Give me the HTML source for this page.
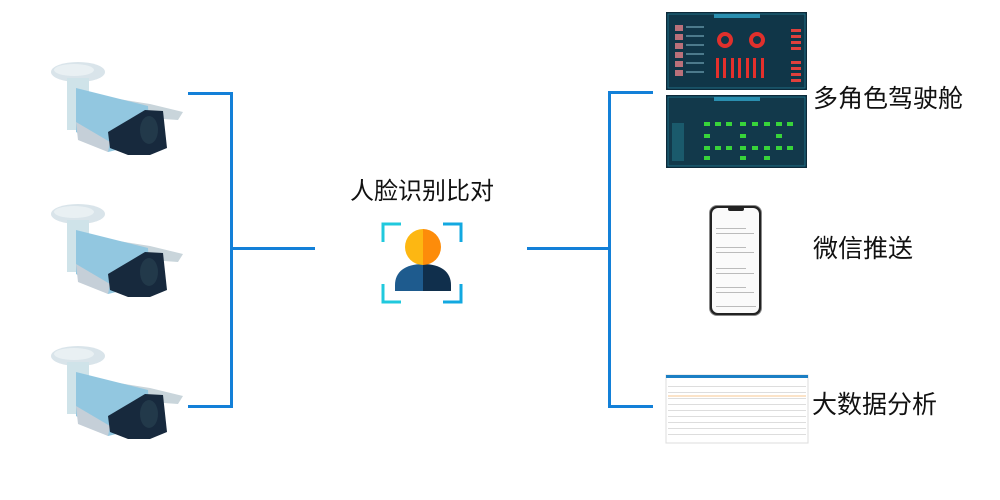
<!DOCTYPE html>
<html><head><meta charset="utf-8"><style>
html,body{margin:0;padding:0;background:#fff;}
body{width:1000px;height:500px;position:relative;overflow:hidden;font-family:"Liberation Sans","Noto Sans CJK SC",sans-serif;}
.t{position:absolute;color:#111;font-size:24px;line-height:28px;white-space:nowrap;}
</style></head><body>
<svg width="1000" height="500" style="position:absolute;left:0;top:0">
<defs>
<g id="cam">
<ellipse cx="78" cy="72" rx="27" ry="10" fill="#d9e4ea"/>
<ellipse cx="74" cy="70" rx="20" ry="6" fill="#e9f0f3"/>
<rect x="67" y="78" width="22" height="52" fill="#cfe3e9"/>
<polygon points="100,96 150,104 183,112 178,120 150,118 105,108" fill="#c9d5db"/>
<polygon points="76,88 148,106 150,142 108,152 76,132" fill="#92c7e0"/>
<polygon points="76,122 110,142 108,152 78,140" fill="#c5cfd8"/>
<polygon points="108,132 145,110 163,111 167,148 150,155 128,155 110,148" fill="#17293d"/>
<ellipse cx="149" cy="130" rx="9" ry="14" fill="#22394a"/>
</g>
</defs>
<use href="#cam"/>
<use href="#cam" transform="translate(0,142)"/>
<use href="#cam" transform="translate(0,284)"/>
<g fill="#1380d8">
<rect x="188" y="92" width="45" height="3"/>
<rect x="188" y="405" width="45" height="3"/>
<rect x="230" y="92" width="3" height="316"/>
<rect x="230" y="247" width="85" height="3"/>
<rect x="527" y="247" width="84" height="3"/>
<rect x="608" y="91" width="3" height="317"/>
<rect x="608" y="91" width="45" height="3"/>
<rect x="608" y="405" width="45" height="3"/>
</g>
<g stroke-width="3" fill="none">
<path d="M383,242 V224 H401" stroke="#20c9dd"/>
<path d="M443,224 H461 V242" stroke="#12a8e0"/>
<path d="M383,284 V302 H401" stroke="#20c9dd"/>
<path d="M443,302 H461 V284" stroke="#12a8e0"/>
</g>
<path d="M423,291 H395 V285 C395,272 405,264 423,264 Z" fill="#1e5b8e"/>
<path d="M423,291 H451 V285 C451,272 441,264 423,264 Z" fill="#102f4c"/>
<path d="M423,229 A18,18 0 0 0 423,265 Z" fill="#fdb712"/>
<path d="M423,229 A18,18 0 0 1 423,265 Z" fill="#fd8c0a"/>
<rect x="666" y="12" width="141" height="78" fill="#0c2a3a"/>
<rect x="668" y="14" width="137" height="74" fill="#103648" stroke="#1f6e85" stroke-width="1"/>
<rect x="714" y="14" width="46" height="4" fill="#2a8fb0"/>
<g fill="#b9707a"><rect x="675" y="25" width="8" height="6"/><rect x="675" y="34" width="8" height="6"/><rect x="675" y="43" width="8" height="6"/><rect x="675" y="52" width="8" height="6"/><rect x="675" y="61" width="8" height="6"/><rect x="675" y="70" width="8" height="6"/></g>
<g fill="#4c7a8c"><rect x="686" y="26" width="18" height="2"/><rect x="686" y="35" width="18" height="2"/><rect x="686" y="44" width="18" height="2"/><rect x="686" y="53" width="18" height="2"/><rect x="686" y="62" width="18" height="2"/><rect x="686" y="71" width="18" height="2"/></g>
<circle cx="725" cy="40" r="6" fill="none" stroke="#e0302c" stroke-width="4"/>
<circle cx="757" cy="40" r="6" fill="none" stroke="#e0302c" stroke-width="4"/>
<g fill="#e5302c"><rect x="716" y="58" width="3" height="20"/><rect x="723" y="58" width="3" height="20"/><rect x="731" y="58" width="3" height="20"/><rect x="738" y="58" width="3" height="20"/><rect x="746" y="58" width="3" height="20"/><rect x="753" y="58" width="3" height="20"/><rect x="761" y="58" width="3" height="20"/></g>
<g fill="#e0403c"><rect x="791" y="29" width="10" height="3"/><rect x="791" y="35" width="10" height="3"/><rect x="791" y="41" width="10" height="3"/><rect x="791" y="47" width="10" height="3"/><rect x="791" y="61" width="10" height="3"/><rect x="791" y="67" width="10" height="3"/><rect x="791" y="73" width="10" height="3"/><rect x="791" y="79" width="10" height="3"/></g>
<rect x="666" y="95" width="141" height="73" fill="#0c2a3a"/>
<rect x="668" y="97" width="137" height="69" fill="#12394b" stroke="#1f6e85" stroke-width="1"/>
<rect x="714" y="97" width="46" height="4" fill="#2a8fb0"/>
<rect x="672" y="123" width="12" height="38" fill="#1a5a6c"/>
<g fill="#38d43a">
<rect x="704" y="122" width="6" height="4"/><rect x="715" y="122" width="6" height="4"/><rect x="726" y="122" width="6" height="4"/><rect x="740" y="122" width="6" height="4"/><rect x="752" y="122" width="6" height="4"/><rect x="764" y="122" width="6" height="4"/><rect x="776" y="122" width="6" height="4"/><rect x="787" y="122" width="6" height="4"/>
<rect x="704" y="134" width="6" height="4"/><rect x="740" y="134" width="6" height="4"/><rect x="776" y="134" width="6" height="4"/>
<rect x="704" y="146" width="6" height="4"/><rect x="715" y="146" width="6" height="4"/><rect x="726" y="146" width="6" height="4"/><rect x="740" y="146" width="6" height="4"/><rect x="752" y="146" width="6" height="4"/><rect x="764" y="146" width="6" height="4"/><rect x="776" y="146" width="6" height="4"/><rect x="787" y="146" width="6" height="4"/>
<rect x="704" y="156" width="6" height="4"/><rect x="740" y="156" width="6" height="4"/><rect x="764" y="156" width="6" height="4"/>
</g>
<rect x="709" y="205" width="53" height="111" rx="8" fill="#8a8a8a"/>
<rect x="710" y="206" width="51" height="109" rx="7" fill="#222"/>
<rect x="712" y="208" width="47" height="105" rx="6" fill="#fafafa"/>
<rect x="728" y="207" width="16" height="4" rx="2" fill="#222"/>
<g fill="#bbb"><rect x="716" y="228" width="30" height="1"/><rect x="716" y="233" width="38" height="1"/><rect x="716" y="247" width="30" height="1"/><rect x="716" y="252" width="38" height="1"/><rect x="716" y="268" width="30" height="1"/><rect x="716" y="273" width="38" height="1"/><rect x="716" y="287" width="30" height="1"/><rect x="716" y="292" width="38" height="1"/><rect x="716" y="306" width="40" height="1"/></g>
<rect x="666" y="375" width="142" height="68" fill="#fff" stroke="#ddd"/>
<rect x="666" y="375" width="142" height="3" fill="#1b7fc4"/>
<g fill="#ddd"><rect x="668" y="386" width="138" height="1"/><rect x="668" y="392" width="138" height="1"/><rect x="668" y="398" width="138" height="1"/><rect x="668" y="404" width="138" height="1"/><rect x="668" y="410" width="138" height="1"/><rect x="668" y="416" width="138" height="1"/><rect x="668" y="422" width="138" height="1"/><rect x="668" y="428" width="138" height="1"/><rect x="668" y="434" width="138" height="1"/></g>
<rect x="668" y="395" width="138" height="2" fill="#fbe3c8"/>
</svg>
<div class="t" style="left:350px;top:178px;">人脸识别比对</div>
<div class="t" style="left:813px;top:85px;font-size:25px;">多角色驾驶舱</div>
<div class="t" style="left:813px;top:235px;font-size:25px;">微信推送</div>
<div class="t" style="left:812px;top:391px;font-size:25px;">大数据分析</div>
</body></html>
